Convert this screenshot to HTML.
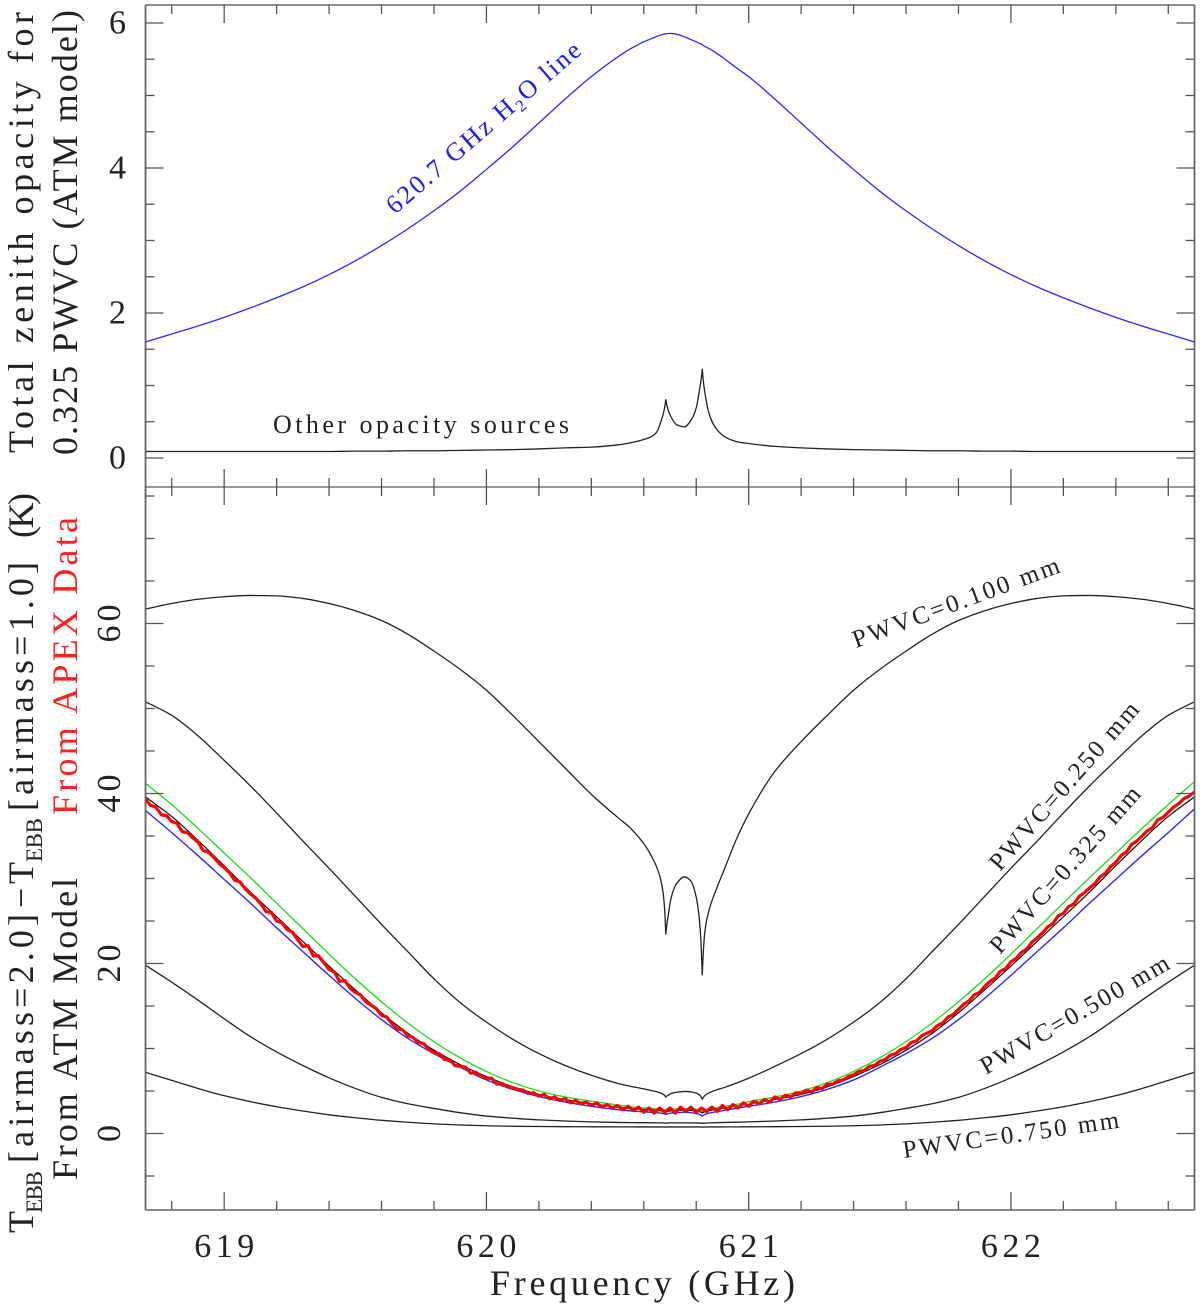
<!DOCTYPE html>
<html lang="en">
<head>
<meta charset="utf-8">
<title>Atmospheric opacity and TEBB difference around 620.7 GHz</title>
<style>
html,body{margin:0;padding:0;background:#fff;}
svg{display:block;filter:blur(0.3px);}
text{font-family:"Liberation Serif",serif;fill:#222;}
</style>
</head>
<body>
<svg id="chart" xmlns="http://www.w3.org/2000/svg" width="1200" height="1309" viewBox="0 0 1200 1309">
  <rect x="0" y="0" width="1200" height="1309" fill="#fff"/>
  <g id="marks" fill="none"></g>
  <g id="axes"></g>

  <g font-size="36">
    <text transform="translate(33,453) rotate(-90)" textLength="441">Total zenith opacity for</text>
    <text transform="translate(77,455) rotate(-90)" textLength="445">0.325 PWVC (ATM model)</text>
  </g>

  <g font-size="36">
    <text transform="translate(33,1233) rotate(-90)">T</text>
    <text font-size="23" transform="translate(42,1213) rotate(-90)" textLength="42">EBB</text>
    <text transform="translate(33,1163) rotate(-90)" textLength="249">[airmass=2.0]</text>
    <text transform="translate(33,908) rotate(-90)" textLength="18">−</text>
    <text transform="translate(33,884) rotate(-90)">T</text>
    <text font-size="23" transform="translate(42,862) rotate(-90)" textLength="44">EBB</text>
    <text transform="translate(33,811) rotate(-90)" textLength="249">[airmass=1.0]</text>
    <text transform="translate(33,538) rotate(-90)" textLength="45">(K)</text>
    <text transform="translate(77,1180) rotate(-90)" textLength="302">From ATM Model</text>
    <text style="fill:#ff2020" transform="translate(77,815) rotate(-90)" textLength="298">From APEX Data</text>
  </g>

  <text x="490" y="1295" font-size="36" textLength="305">Frequency (GHz)</text>

  <text font-size="26" style="fill:#1a1aff" transform="translate(395,215) rotate(-40.8)" textLength="248">620.7 GHz H<tspan font-size="17" dy="5">2</tspan><tspan dy="-5">O line</tspan></text>
  <text x="273" y="433" font-size="26" textLength="296">Other opacity sources</text>
  <text font-size="25" transform="translate(856,648) rotate(-20.3)" textLength="219">PWVC=0.100 mm</text>
  <text font-size="25" transform="translate(1000,872) rotate(-49)" textLength="214">PWVC=0.250 mm</text>
  <text font-size="25" transform="translate(1000,955) rotate(-48.4)" textLength="214">PWVC=0.325 mm</text>
  <text font-size="25" transform="translate(986,1075) rotate(-30)" textLength="214">PWVC=0.500 mm</text>
  <text font-size="25" transform="translate(904,1158) rotate(-8)" textLength="218">PWVC=0.750 mm</text>
</svg>

<script>
// ---- Chart data ----
const frequencies = [
  618.7,618.8,618.9,619.0,619.1,619.2,619.3,619.4,619.5,619.6,619.7,619.8,619.9,620.0,620.1,620.2,620.3,620.4,
  620.5,620.55,620.6,620.63,620.65,620.665,620.675,620.684,620.693,620.705,620.725,620.755,620.78,620.8,620.812,620.823,620.834,620.85,620.875,620.91,620.95,
  621.0,621.1,621.2,621.3,621.4,621.5,621.6,621.7,621.8,621.9,622.0,622.1,622.2,622.3,622.4,622.5,622.6,622.7
];
const cuspFrequencies = [620.684, 620.823];

const waterLineOpacity = [
  1.60,1.71,1.82,1.94,2.07,2.21,2.36,2.53,2.72,2.93,3.16,3.41,3.68,3.98,4.29,4.62,4.95,5.26,
  5.53,5.645,5.74,5.785,5.815,5.835,5.845,5.85,5.855,5.855,5.845,5.81,5.77,5.74,5.72,5.70,5.675,5.645,5.59,5.50,5.39,
  5.26,4.95,4.62,4.29,3.98,3.68,3.41,3.16,2.93,2.72,2.53,2.36,2.21,2.07,1.94,1.82,1.71,1.60
];
const otherOpacity = [
  .09,.09,.09,.09,.09,.09,.09,.09,.095,.095,.10,.10,.105,.11,.115,.125,.14,.15,
  .18,.21,.255,.295,.36,.50,.62,.81,.66,.56,.46,.43,.52,.69,.93,1.23,.88,.60,.41,.29,.23,
  .20,.16,.14,.125,.115,.11,.105,.10,.10,.095,.095,.09,.09,.09,.09,.09,.09,.09
];
const pwvc100 = [
  61.7,62.35,62.85,63.15,63.3,63.25,62.95,62.35,61.5,60.35,58.75,56.75,54.6,52.15,49.2,46.1,43.0,39.9,
  37.2,35.9,34.1,32.6,31.3,29.8,28.0,23.4,25.6,27.8,29.4,30.2,29.7,27.8,25.2,18.6,24.0,26.4,28.6,31.3,34.4,
  37.6,42.6,46.1,49.2,52.15,54.6,56.75,58.75,60.35,61.5,62.35,62.95,63.25,63.3,63.15,62.85,62.35,61.7
];
const pwvc250 = [
  50.8,49.2,46.8,43.9,40.9,37.7,34.4,31.2,27.9,24.6,21.4,18.2,15.4,13.1,11.1,9.4,8.0,6.85,
  5.9,5.55,5.25,5.05,4.9,4.75,4.6,4.3,4.5,4.7,4.85,4.95,4.9,4.75,4.55,4.05,4.5,4.8,5.1,5.45,5.9,
  6.5,7.9,9.4,11.1,13.1,15.4,18.2,21.4,24.6,27.9,31.2,34.4,37.7,40.9,43.9,46.8,49.2,50.8
];
const pwvc325 = [
  39.6,37.3,34.5,31.5,28.4,25.5,22.6,19.7,16.9,14.2,11.8,9.8,8.1,6.7,5.5,4.6,4.0,3.5,
  3.1,2.95,2.82,2.78,2.72,2.66,2.62,2.55,2.62,2.68,2.72,2.75,2.72,2.66,2.58,2.42,2.56,2.68,2.85,3.0,3.2,
  3.45,4.0,4.6,5.5,6.7,8.1,9.8,11.8,14.2,16.9,19.7,22.6,25.5,28.4,31.5,34.5,37.3,39.6
];
const pwvcHigher = [
  41.2,38.7,35.9,33.0,30.1,27.1,24.1,21.1,18.2,15.5,13.0,10.8,8.9,7.3,6.0,5.0,4.3,3.8,
  3.35,3.15,3.0,2.95,2.9,2.85,2.8,2.7,2.8,2.85,2.9,2.92,2.9,2.85,2.75,2.6,2.75,2.88,3.02,3.2,3.4,
  3.75,4.3,5.0,6.0,7.3,8.9,10.8,13.0,15.5,18.2,21.1,24.1,27.1,30.1,33.0,35.9,38.7,41.4
];
const pwvcLower = [
  38.0,35.4,32.7,29.9,27.1,24.2,21.4,18.6,15.9,13.4,11.2,9.4,7.8,6.3,5.2,4.35,3.7,3.2,
  2.8,2.65,2.55,2.5,2.45,2.4,2.35,2.25,2.35,2.4,2.45,2.5,2.45,2.35,2.25,2.05,2.25,2.4,2.55,2.75,2.95,
  3.2,3.7,4.35,5.2,6.3,7.8,9.4,11.2,13.4,15.9,18.6,21.4,24.2,27.1,29.9,32.7,35.4,38.2
];
const pwvc500 = [
  19.8,17.8,15.7,13.5,11.4,9.6,8.0,6.55,5.3,4.25,3.5,2.95,2.45,2.05,1.8,1.6,1.47,1.37,
  1.3,1.28,1.27,1.26,1.25,1.25,1.24,1.22,1.24,1.25,1.25,1.25,1.25,1.24,1.23,1.2,1.23,1.25,1.27,1.3,1.33,
  1.37,1.47,1.6,1.8,2.05,2.45,2.95,3.5,4.25,5.3,6.55,8.0,9.6,11.4,13.5,15.7,17.8,19.8
];
const pwvc750 = [
  7.2,6.25,5.3,4.45,3.75,3.15,2.65,2.2,1.85,1.55,1.32,1.13,1.0,.91,.85,.82,.8,.79,
  .78,.78,.77,.77,.77,.77,.77,.76,.77,.77,.77,.77,.77,.77,.77,.76,.77,.77,.77,.78,.78,
  .79,.8,.82,.85,.91,1.0,1.13,1.32,1.55,1.85,2.2,2.65,3.15,3.75,4.45,5.3,6.25,7.2
];

// APEX measurement, sampled every 0.02 GHz from 618.7 GHz
const apexStartGHz = 618.7;
const apexStepGHz = 0.02;
const apexData = [
  39.3,38.6,38.4,37.5,37.4, 36.7,36.5,35.5,35.4,34.8,
  34.3,33.3,33.1,32.5,31.8, 31.3,30.7,29.8,29.6,28.8,
  28.2,27.7,27.0,26.1,26.0, 25.0,24.8,24.0,23.7,22.8,
  22.0,22.1,20.9,20.9,20.1, 19.3,19.0,17.9,18.0,17.1,
  16.6,16.3,15.5,15.1,14.7, 13.9,13.7,12.9,12.3,12.2,
  11.5,11.3,10.7,10.6,9.9, 9.5,9.4,8.7,8.7,8.0,
  7.9,7.8,7.1,7.2,6.7, 6.5,6.5,5.8,5.9,5.5,
  5.4,5.2,5.1,4.7,4.8, 4.4,4.6,4.1,4.3,3.9,
  4.1,3.6,3.9,3.5,3.7, 3.3,3.6,3.1,3.4,3.0,
  3.3,2.8,3.2,2.7,3.1, 2.5,3.0,2.4,3.0,2.5,
  3.0,2.4,3.1,2.6,3.1, 2.5,3.0,2.6,3.1,2.6,
  3.3,2.8,3.4,3.0,3.6, 3.2,3.8,3.5,4.0,3.7,
  4.3,4.0,4.5,4.3,4.8, 4.7,5.1,4.9,5.4,5.3,
  5.8,5.8,6.2,6.3,6.7, 6.9,7.3,7.4,7.9,8.0,
  8.5,8.7,9.2,9.4,9.9, 10.1,10.7,10.9,11.5,11.8,
  12.1,12.7,13.0,13.7,14.0, 14.6,15.2,15.6,16.3,16.6,
  17.3,17.9,18.3,19.1,19.4, 20.2,20.6,21.3,21.7,22.5,
  23.0,23.6,24.3,24.7,25.6, 25.9,26.7,27.0,27.9,28.3,
  28.9,29.4,30.2,30.6,31.4, 31.9,32.7,33.1,34.0,34.4,
  35.0,35.6,36.0,36.9,37.2, 37.8,38.4,38.8,39.4,39.7,
  40.2
];

// Axis ticks and tick labels
const xMajorTicks = [619,620,621,622];
const xMinorTicks = [618.8,619.2,619.4,619.6,619.8,620.2,620.4,620.6,620.8,621.2,621.4,621.6,621.8,622.2,622.4,622.6];
const xTickLabels = ["619","620","621","622"];
const topMajorTicks = [0,2,4,6];
const topMinorTicks = [0.5,1,1.5,2.5,3,3.5,4.5,5,5.5];
const topTickLabels = ["0","2","4","6"];
const bottomMajorTicks = [0,20,40,60];
const bottomMinorTicks = [-5,5,10,15,25,30,35,45,50,55,65,70,75];
const bottomTickLabels = ["0","20","40","60"];

// ---- Axis functions ----
const plotLeft = 145.5, plotRight = 1194.5, topPanelTop = 5, panelSplit = 487, bottomPanelBottom = 1210;
const xDomain = [618.7, 622.7];
const topDomain = [-0.4, 6.248];
const bottomDomain = [-9, 76.06];
function xScale(f){ return plotLeft + (f - xDomain[0]) / (xDomain[1] - xDomain[0]) * (plotRight - plotLeft); }
function yTop(v){ return panelSplit - (v - topDomain[0]) / (topDomain[1] - topDomain[0]) * (panelSplit - topPanelTop); }
function yBottom(v){ return bottomPanelBottom - (v - bottomDomain[0]) / (bottomDomain[1] - bottomDomain[0]) * (bottomPanelBottom - panelSplit); }

const SVG_NS = 'http://www.w3.org/2000/svg';
const marks = document.getElementById('marks');
const axes = document.getElementById('axes');

// Monotone cubic through the samples on the non-uniform grid; cusps stay sharp.
function smoothPath(fs, vs, yFn){
  const x = fs.map(f => xScale(f)), y = vs.map(v => yFn(v));
  const n = x.length, h = [], d = [], mL = new Array(n), mR = new Array(n);
  for (let i = 0; i < n - 1; i++){ h[i] = x[i + 1] - x[i]; d[i] = (y[i + 1] - y[i]) / h[i]; }
  mL[0] = mR[0] = d[0];
  mL[n - 1] = mR[n - 1] = d[n - 2];
  for (let i = 1; i < n - 1; i++){
    if (cuspFrequencies.indexOf(fs[i]) >= 0){
      mL[i] = d[i - 1] * 1.7;
      mR[i] = d[i] * 1.7;
    } else if (d[i - 1] * d[i] <= 0){
      mL[i] = mR[i] = 0;
    } else {
      const w1 = 2 * h[i] + h[i - 1], w2 = h[i] + 2 * h[i - 1];
      mL[i] = mR[i] = (w1 + w2) / (w1 / d[i - 1] + w2 / d[i]);
    }
  }
  let p = 'M' + x[0].toFixed(2) + ' ' + y[0].toFixed(2);
  for (let i = 0; i < n - 1; i++){
    const t = h[i] / 3;
    p += 'C' + (x[i] + t).toFixed(2) + ' ' + (y[i] + mR[i] * t).toFixed(2) + ' '
      + (x[i + 1] - t).toFixed(2) + ' ' + (y[i + 1] - mL[i + 1] * t).toFixed(2) + ' '
      + x[i + 1].toFixed(2) + ' ' + y[i + 1].toFixed(2);
  }
  return p;
}

function drawCurve(name, values, yFn, color, width){
  const el = document.createElementNS(SVG_NS, 'path');
  
  
  el.setAttribute('d', smoothPath(frequencies, values, yFn));
  el.setAttribute('stroke', color);
  el.setAttribute('stroke-width', width);
  el.setAttribute('fill', 'none');
  marks.appendChild(el);
}

function drawApex(){
  const el = document.createElementNS(SVG_NS, 'polyline');
  
  
  const pts = apexData.map((v, i) => xScale(apexStartGHz + i * apexStepGHz).toFixed(2) + ',' + yBottom(v).toFixed(2));
  el.setAttribute('points', pts.join(' '));
  el.setAttribute('stroke', '#ff0000');
  el.setAttribute('stroke-width', '3.2');
  el.setAttribute('stroke-linejoin', 'round');
  el.setAttribute('fill', 'none');
  marks.appendChild(el);
}

drawCurve('water-line-opacity-curve', waterLineOpacity, yTop, '#2a2aff', 1.3);
drawCurve('other-opacity-curve', otherOpacity, yTop, '#222', 1.3);
drawCurve('pwvc-higher-green-curve', pwvcHigher, yBottom, '#22e022', 1.4);
drawCurve('pwvc-lower-blue-curve', pwvcLower, yBottom, '#2a2aff', 1.4);
drawCurve('pwvc-0.325-curve', pwvc325, yBottom, '#111', 1.2);
drawApex();
drawCurve('pwvc-0.100-curve', pwvc100, yBottom, '#222', 1.3);
drawCurve('pwvc-0.250-curve', pwvc250, yBottom, '#222', 1.3);
drawCurve('pwvc-0.500-curve', pwvc500, yBottom, '#222', 1.3);
drawCurve('pwvc-0.750-curve', pwvc750, yBottom, '#222', 1.3);

// ---- Axes ----
function drawLine(name, x1, y1, x2, y2, color, width){
  const el = document.createElementNS(SVG_NS, 'line');
  
  
  el.setAttribute('x1', x1);
  el.setAttribute('y1', y1);
  el.setAttribute('x2', x2);
  el.setAttribute('y2', y2);
  el.setAttribute('stroke', color);
  el.setAttribute('stroke-width', width);
  axes.appendChild(el);
}

function drawLabel(name, label, transform, anchor, length){
  const el = document.createElementNS(SVG_NS, 'text');
  
  
  el.setAttribute('transform', transform);
  el.setAttribute('text-anchor', anchor);
  el.setAttribute('font-size', '34');
  if (length) el.setAttribute('textLength', length);
  el.textContent = label;
  axes.appendChild(el);
}

const frameColor = '#666', tickColor = '#555';
drawLine('frame-left', plotLeft, topPanelTop, plotLeft, bottomPanelBottom, frameColor, 1.8);
drawLine('frame-right', plotRight, topPanelTop, plotRight, bottomPanelBottom, frameColor, 1.8);
drawLine('frame-top', plotLeft, topPanelTop, plotRight, topPanelTop, frameColor, 1.6);
drawLine('frame-bottom', plotLeft, bottomPanelBottom, plotRight, bottomPanelBottom, frameColor, 1.6);
drawLine('panel-divider', plotLeft, panelSplit, plotRight, panelSplit, '#333', 1.1);

const majorLen = 18, minorLen = 9;
function xTicks(ticks, len, kind){
  ticks.forEach(f => {
    const x = xScale(f);
    drawLine('x-' + kind + '-tick-top-' + f, x, topPanelTop, x, topPanelTop + len, tickColor, 1.3);
    drawLine('x-' + kind + '-tick-divider-up-' + f, x, panelSplit, x, panelSplit - len, tickColor, 1.3);
    drawLine('x-' + kind + '-tick-divider-down-' + f, x, panelSplit, x, panelSplit + len, tickColor, 1.3);
    drawLine('x-' + kind + '-tick-bottom-' + f, x, bottomPanelBottom, x, bottomPanelBottom - len, tickColor, 1.3);
  });
}
function yTicks(ticks, len, yFn, kind){
  ticks.forEach(v => {
    const y = yFn(v);
    drawLine('y-' + kind + '-tick-left-' + v, plotLeft, y, plotLeft + len, y, tickColor, 1.3);
    drawLine('y-' + kind + '-tick-right-' + v, plotRight, y, plotRight - len, y, tickColor, 1.3);
  });
}
xTicks(xMajorTicks, majorLen, 'major');
xTicks(xMinorTicks, minorLen, 'minor');
yTicks(topMajorTicks, majorLen, yTop, 'top-major');
yTicks(topMinorTicks, minorLen, yTop, 'top-minor');
yTicks(bottomMajorTicks, majorLen, yBottom, 'bottom-major');
yTicks(bottomMinorTicks, minorLen, yBottom, 'bottom-minor');

xMajorTicks.forEach((f, i) => {
  drawLabel('x-tick-label-' + xTickLabels[i], xTickLabels[i], 'translate(' + xScale(f).toFixed(1) + ',1257)', 'middle', 60);
});
topMajorTicks.forEach((v, i) => {
  drawLabel('top-y-tick-label-' + topTickLabels[i], topTickLabels[i], 'translate(126,' + (yTop(v) + 10.5).toFixed(1) + ')', 'end', 0);
});
bottomMajorTicks.forEach((v, i) => {
  const len = bottomTickLabels[i].length > 1 ? 38 : 0;
  drawLabel('bottom-y-tick-label-' + bottomTickLabels[i], bottomTickLabels[i], 'translate(120,' + yBottom(v).toFixed(1) + ') rotate(-90)', 'middle', len);
});
</script>
</body>
</html>
